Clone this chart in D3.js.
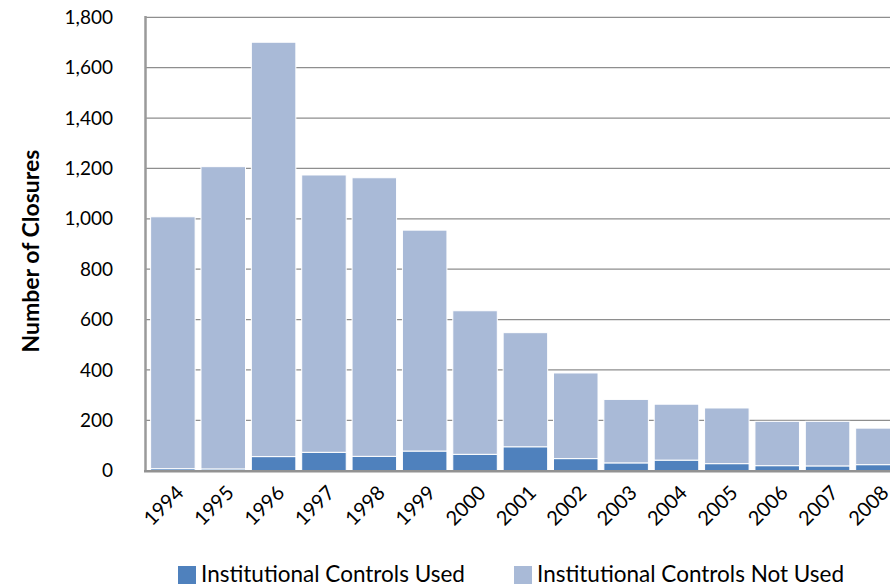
<!DOCTYPE html>
<html>
<head>
<meta charset="utf-8">
<script src="https://cdn.jsdelivr.net/npm/d3@7"></script>
<style>
  html, body { margin: 0; padding: 0; background: #fff; }
  svg { display: block; font-family: Lato, "Open Sans", sans-serif; }
</style>
</head>
<body>
<svg id="chart" width="890" height="587"></svg>
<script>
// Closures per year, split by whether institutional controls were used
const years = ["1994","1995","1996","1997","1998","1999","2000","2001","2002","2003","2004","2005","2006","2007","2008"];
const controlsUsed    = [8, 7, 56, 73, 57, 78, 65, 95, 48, 31, 42, 28, 20, 19, 24];
const controlsNotUsed = [1000, 1200, 1645, 1101, 1106, 877, 570, 453, 340, 252, 222, 221, 176, 177, 145];
const yTicks = [0, 200, 400, 600, 800, 1000, 1200, 1400, 1600, 1800];
const seriesNames = ["Institutional Controls Used", "Institutional Controls Not Used"];
const seriesColors = ["#4F81BD", "#A9BAD7"];

const svg = d3.select("#chart");

const rows = years.map((yr, i) => ({ year: yr, used: controlsUsed[i], notUsed: controlsNotUsed[i] }));
const stacked = d3.stack().keys(["used", "notUsed"])(rows);

const x = d3.scaleBand()
  .domain(years)
  .range([147.7, 903.1])
  .paddingInner(0.116)
  .paddingOuter(0.058);

const y = d3.scaleLinear()
  .domain([0, 1800])
  .range([470.7, 17.3]);

// horizontal gridlines
svg.append("g")
  .selectAll("line")
  .data(yTicks.filter(d => d > 0))
  .join("line")
  .attr("x1", 145).attr("x2", 890)
  .attr("y1", d => y(d)).attr("y2", d => y(d))
  .attr("stroke", "#8e8e8e")
  .attr("stroke-width", 1.2);

// stacked bars
svg.append("g")
  .selectAll("g")
  .data(stacked)
  .join("g")
  .attr("fill", (d, i) => seriesColors[i])
  .selectAll("rect")
  .data(d => d)
  .join("rect")
  .attr("x", d => x(d.data.year))
  .attr("width", x.bandwidth())
  .attr("y", d => y(d[1]))
  .attr("height", d => y(d[0]) - y(d[1]))
  .attr("stroke", "#ffffff")
  .attr("stroke-width", 1);

// axis lines
svg.append("line")
  .attr("x1", 145.5).attr("x2", 145.5)
  .attr("y1", 16).attr("y2", 472)
  .attr("stroke", "#9a9a9a").attr("stroke-width", 2.5);
svg.append("line")
  .attr("x1", 144).attr("x2", 890)
  .attr("y1", 471.2).attr("y2", 471.2)
  .attr("stroke", "#929292").attr("stroke-width", 2.5);

// y axis tick labels
const yAxis = d3.axisLeft(y)
  .tickValues(yTicks)
  .tickFormat(d3.format(","))
  .tickSize(0)
  .tickPadding(0);
const yg = svg.append("g")
  .attr("transform", "translate(113,0)")
  .call(yAxis);
yg.select(".domain").remove();
yg.selectAll("text")
  .attr("font-family", "Lato, 'Open Sans', sans-serif")
  .attr("font-size", 19)
  .attr("fill", "#000");

// x axis labels, rotated
const xAxis = d3.axisBottom(x).tickSize(0).tickPadding(0);
const xg = svg.append("g")
  .call(xAxis);
xg.select(".domain").remove();
xg.selectAll(".tick").attr("transform", null);
xg.selectAll("text")
  .attr("font-family", "Lato, 'Open Sans', sans-serif")
  .attr("font-size", 20)
  .attr("fill", "#000")
  .attr("text-anchor", "end")
  .attr("dy", 0)
  .attr("y", 0)
  .attr("transform", d => `translate(${x(d) + x.bandwidth() / 2 + 12},494) rotate(-45)`);

// y axis title
svg.append("text")
  .attr("transform", "translate(39,251) rotate(-90)")
  .attr("text-anchor", "middle")
  .attr("font-size", 23)
  .attr("font-weight", "bold")
  .attr("fill", "#000")
  .text("Number of Closures");

// legend
const legendX = [178, 514];
const lg = svg.append("g");
seriesNames.forEach((name, i) => {
  lg.append("rect")
    .attr("x", legendX[i]).attr("y", 566)
    .attr("width", 18).attr("height", 18)
    .attr("fill", seriesColors[i]);
  lg.append("text")
    .attr("x", legendX[i] + 23).attr("y", 581.5)
    .attr("font-size", 22.5)
    .attr("fill", "#000")
    .text(name);
});
</script>
</body>
</html>
